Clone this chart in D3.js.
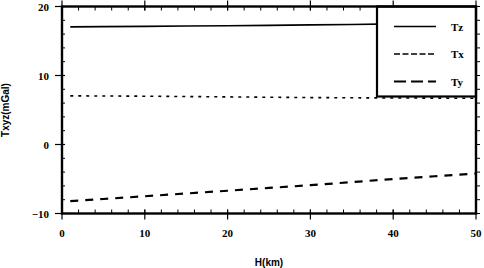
<!DOCTYPE html>
<html>
<head>
<meta charset="utf-8">
<script src="https://cdn.jsdelivr.net/npm/d3@7"></script>
<style>
  body { margin: 0; background: #fff; }
  svg { display: block; }
  .tick-label { font-family: "Liberation Serif", serif; font-weight: bold; font-size: 11px; }
  .axis-title { font-family: "Liberation Sans", Arial, sans-serif; font-weight: bold; font-size: 10px; }
</style>
</head>
<body>
<div id="container"></div>
<script>
/* CONSTANTS AND GLOBALS */
const width = 484,
  height = 268,
  margin = { top: 6.5, bottom: 54.5, left: 62, right: 8 };

/* DATA */
const hKm = [1, 5, 10, 15, 20, 25, 30, 35, 40, 45, 50];
const tz = [17.05, 17.08, 17.12, 17.17, 17.22, 17.27, 17.33, 17.4, 17.48, 17.55, 17.6];
const tx = [7.05, 7.03, 7.0, 6.95, 6.9, 6.85, 6.8, 6.77, 6.74, 6.72, 6.7];
const ty = [-8.2, -7.9, -7.5, -7.1, -6.7, -6.3, -5.9, -5.45, -5.0, -4.6, -4.2];

const seriesNames = ["Tz", "Tx", "Ty"];
const xTicks = [0, 10, 20, 30, 40, 50];
const yTicks = [-10, 0, 10, 20];

const styles = {
  Tz: { dash: null, width: 1.6, legendDash: null },
  Tx: { dash: "3,5", width: 1.6, legendDash: "6,2.5" },
  Ty: { dash: "8,7", width: 2.2, legendDash: "12,5" }
};

const series = [
  { name: "Tz", values: tz },
  { name: "Tx", values: tx },
  { name: "Ty", values: ty }
];

const svg = d3.select("#container")
  .append("svg")
  .attr("width", width)
  .attr("height", height);

/* SCALES */
const x = d3.scaleLinear()
  .domain([0, 50])
  .range([margin.left, width - margin.right]);

const y = d3.scaleLinear()
  .domain([-10, 20])
  .range([height - margin.bottom, margin.top]);

/* LINES */
const line = d3.line()
  .x((d, i) => x(hKm[i]))
  .y(d => y(d));

svg.selectAll("path.series")
  .data(series)
  .join("path")
  .attr("class", "series")
  .attr("d", d => line(d.values))
  .attr("fill", "none")
  .attr("stroke", "#000")
  .attr("stroke-width", d => styles[d.name].width)
  .attr("stroke-dasharray", d => styles[d.name].dash);

/* TICKS (minor inside, major outside) */
const minorX = d3.range(0, 51, 2);
const minorY = d3.range(-10, 21, 2);
const x0 = x(0), x1 = x(50), y0 = y(-10), y1 = y(20);

// bottom & top minor
svg.selectAll("line.mxb")
  .data(minorX)
  .join("line")
  .attr("x1", d => x(d)).attr("x2", d => x(d))
  .attr("y1", y0).attr("y2", y0 - 4)
  .attr("stroke", "#000").attr("stroke-width", 1);
svg.selectAll("line.mxt")
  .data(minorX)
  .join("line")
  .attr("x1", d => x(d)).attr("x2", d => x(d))
  .attr("y1", y1).attr("y2", y1 + 4)
  .attr("stroke", "#000").attr("stroke-width", 1);
// left & right minor
svg.selectAll("line.myl")
  .data(minorY)
  .join("line")
  .attr("x1", x0).attr("x2", x0 + 3)
  .attr("y1", d => y(d)).attr("y2", d => y(d))
  .attr("stroke", "#000").attr("stroke-width", 1);
svg.selectAll("line.myr")
  .data(minorY)
  .join("line")
  .attr("x1", x1).attr("x2", x1 + 4)
  .attr("y1", d => y(d)).attr("y2", d => y(d))
  .attr("stroke", "#000").attr("stroke-width", 1);

// major ticks outward
svg.selectAll("line.Mxb")
  .data(xTicks)
  .join("line")
  .attr("x1", d => x(d)).attr("x2", d => x(d))
  .attr("y1", y0 - 4).attr("y2", y0 + 6)
  .attr("stroke", "#000").attr("stroke-width", 1.2);
svg.selectAll("line.Mxt")
  .data(xTicks)
  .join("line")
  .attr("x1", d => x(d)).attr("x2", d => x(d))
  .attr("y1", y1 + 4).attr("y2", y1 - 6)
  .attr("stroke", "#000").attr("stroke-width", 1.2);
svg.selectAll("line.Myl")
  .data(yTicks)
  .join("line")
  .attr("x1", x0 - 7).attr("x2", x0 + 3)
  .attr("y1", d => y(d)).attr("y2", d => y(d))
  .attr("stroke", "#000").attr("stroke-width", 1.2);

/* TICK LABELS */
svg.selectAll("text.xl")
  .data(xTicks)
  .join("text")
  .attr("class", "tick-label")
  .attr("x", d => x(d))
  .attr("y", y0 + 23)
  .attr("text-anchor", "middle")
  .text(d => d);

svg.selectAll("text.yl")
  .data(yTicks)
  .join("text")
  .attr("class", "tick-label")
  .attr("x", x0 - 13)
  .attr("y", d => y(d) + 4)
  .attr("text-anchor", "end")
  .text(d => d < 0 ? "\u2212" + Math.abs(d) : d);

/* AXIS TITLES */
svg.append("text")
  .attr("class", "axis-title")
  .attr("x", (x0 + x1) / 2)
  .attr("y", 266)
  .attr("text-anchor", "middle")
  .text("H(km)");

svg.append("text")
  .attr("class", "axis-title")
  .attr("transform", `translate(9, ${(y0 + y1) / 2}) rotate(-90)`)
  .attr("text-anchor", "middle")
  .text("Txyz(mGal)");

/* LEGEND */
const lg = { x: 377, y: y1, w: x1 - 377, h: 90 };
svg.append("rect")
  .attr("x", lg.x).attr("y", lg.y)
  .attr("width", lg.w).attr("height", lg.h)
  .attr("fill", "#fff")
  .attr("stroke", "#000")
  .attr("stroke-width", 2.2);

const legendRow = d3.scalePoint()
  .domain(seriesNames)
  .range([lg.y + 20, lg.y + 75]);

svg.selectAll("line.leg")
  .data(seriesNames)
  .join("line")
  .attr("x1", 394).attr("x2", 436)
  .attr("y1", d => legendRow(d)).attr("y2", d => legendRow(d))
  .attr("stroke", "#000")
  .attr("stroke-width", d => styles[d].width)
  .attr("stroke-dasharray", d => styles[d].legendDash);

svg.selectAll("text.leg")
  .data(seriesNames)
  .join("text")
  .attr("class", "tick-label")
  .attr("x", 451)
  .attr("y", d => legendRow(d) + 4)
  .text(d => d);

/* FRAME */
svg.append("rect")
  .attr("x", x0).attr("y", y1)
  .attr("width", x1 - x0).attr("height", y0 - y1)
  .attr("fill", "none")
  .attr("stroke", "#000")
  .attr("stroke-width", 2.4);
</script>
</body>
</html>
